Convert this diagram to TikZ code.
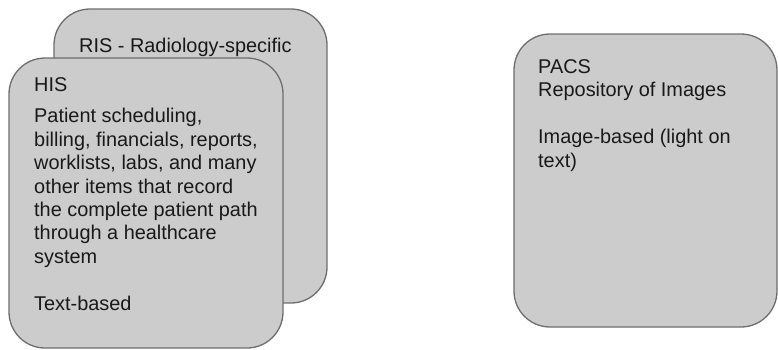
\documentclass[tikz,border=0pt]{standalone}
\usepackage{fontspec}
\setmainfont{Liberation Sans}
\definecolor{boxfill}{RGB}{204, 204, 204}
\definecolor{boxline}{RGB}{110, 110, 110}
\definecolor{textdark}{RGB}{25, 25, 25}

\begin{document}
\begin{tikzpicture}[x=1pt, y=-1pt,
    sysbox/.style={draw=boxline, fill=boxfill, line width=1.3pt, rounded corners=36pt, inner sep=0pt},
    boxtext/.style={anchor=base west, inner sep=0pt, align=left, text=textdark,
        font=\fontsize{19.9}{23.4}\selectfont}]

\useasboundingbox (0,0) rectangle (778,349);

% === RIS (detras) ===
\node[sysbox, minimum width=273pt, minimum height=294pt] (ris) at (190.5, 156) {};
\node[boxtext] (ristext) at (79, 52) {RIS - Radiology-specific};

% === HIS (delante) ===
\node[sysbox, minimum width=274pt, minimum height=290pt] (his) at (146, 203) {};
\node[boxtext] (histitle) at (34, 91) {HIS};
% base = ultima linea
\node[boxtext] (hisbody) at (34, 310) {Patient scheduling,\\
    billing, financials, reports,\\
    worklists, labs, and many\\
    other items that record\\
    the complete patient path\\
    through a healthcare\\
    system\\[23.4pt]
    Text-based};

% === PACS ===
\node[sysbox, minimum width=263pt, minimum height=293pt] (pacs) at (645.5, 180.5) {};
\node[boxtext] (pacstext) at (538, 167) {PACS\\
    Repository of Images\\[23.4pt]
    Image-based (light on\\
    text)};

\end{tikzpicture}
\end{document}
